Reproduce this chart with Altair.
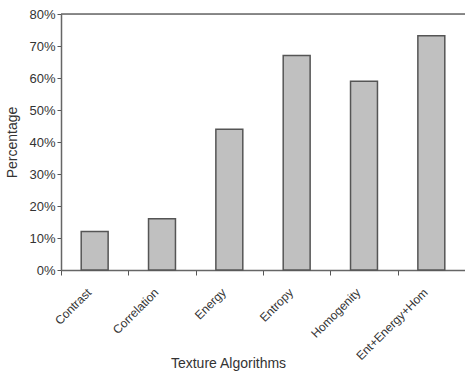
import altair as alt
import pandas as pd

categories = ["Contrast", "Correlation", "Energy", "Entropy", "Homogenity", "Ent+Energy+Hom"]
values = [0.12, 0.16, 0.44, 0.67, 0.59, 0.732]
y_ticks = [0, 0.1, 0.2, 0.3, 0.4, 0.5, 0.6, 0.7, 0.8]

df = pd.DataFrame({"cat": categories, "val": values})
FONT = "Liberation Sans"

x_enc = alt.X(
    "cat:N", sort=categories,
    scale=alt.Scale(paddingInner=0, paddingOuter=0),
    axis=alt.Axis(
        title="Texture Algorithms", labelAngle=-45, labelAlign="right",
        labelBaseline="middle", labelPadding=15, labelOffset=-6,
        labelFontSize=12, labelFont=FONT, labelColor="#333333",
        tickBand="extent", tickSize=5, tickColor="#555555", tickWidth=1,
        domainColor="#666666", domainWidth=1.5,
        titleFont=FONT, titleFontSize=14, titleFontWeight="normal", titleColor="#333333",
        titleX=167, titleY=97, titleBaseline="alphabetic", titleAlign="center",
        labelOverlap=False,
    ),
)

y_axis = alt.Axis(
    title="Percentage", values=y_ticks, format=".0%", grid=False,
    tickSize=4, tickColor="#555555", labelPadding=2,
    labelFontSize=13, labelFont=FONT, labelColor="#333333",
    domainColor="#666666", domainWidth=1.5,
    titleFont=FONT, titleFontSize=14, titleFontWeight="normal", titleColor="#333333",
    titleX=-49, titleY=128, titleAngle=-90, titleBaseline="middle", titleAlign="center",
)
y_enc = alt.Y("val:Q", scale=alt.Scale(domain=[0, 0.8], nice=False), axis=y_axis)

bars = alt.Chart(df).mark_bar(
    width=alt.RelativeBandSize(0.4), color="#c0c0c0", stroke="#555555", strokeWidth=1.5
).encode(x=x_enc, y=y_enc)

top = alt.Chart(pd.DataFrame({"val": [0.8]})).mark_rule(color="#666666", strokeWidth=1.5).encode(
    y=y_enc
)

chart = alt.layer(bars, top).properties(
    width=404, height=256,
    autosize=alt.AutoSizeParams(type="none"),
    padding={"left": 61, "top": 14, "right": 0, "bottom": 101},
).configure_view(stroke=None).configure(background="white")

chart.save("out.html", embed_options={"renderer": "svg", "actions": False})
